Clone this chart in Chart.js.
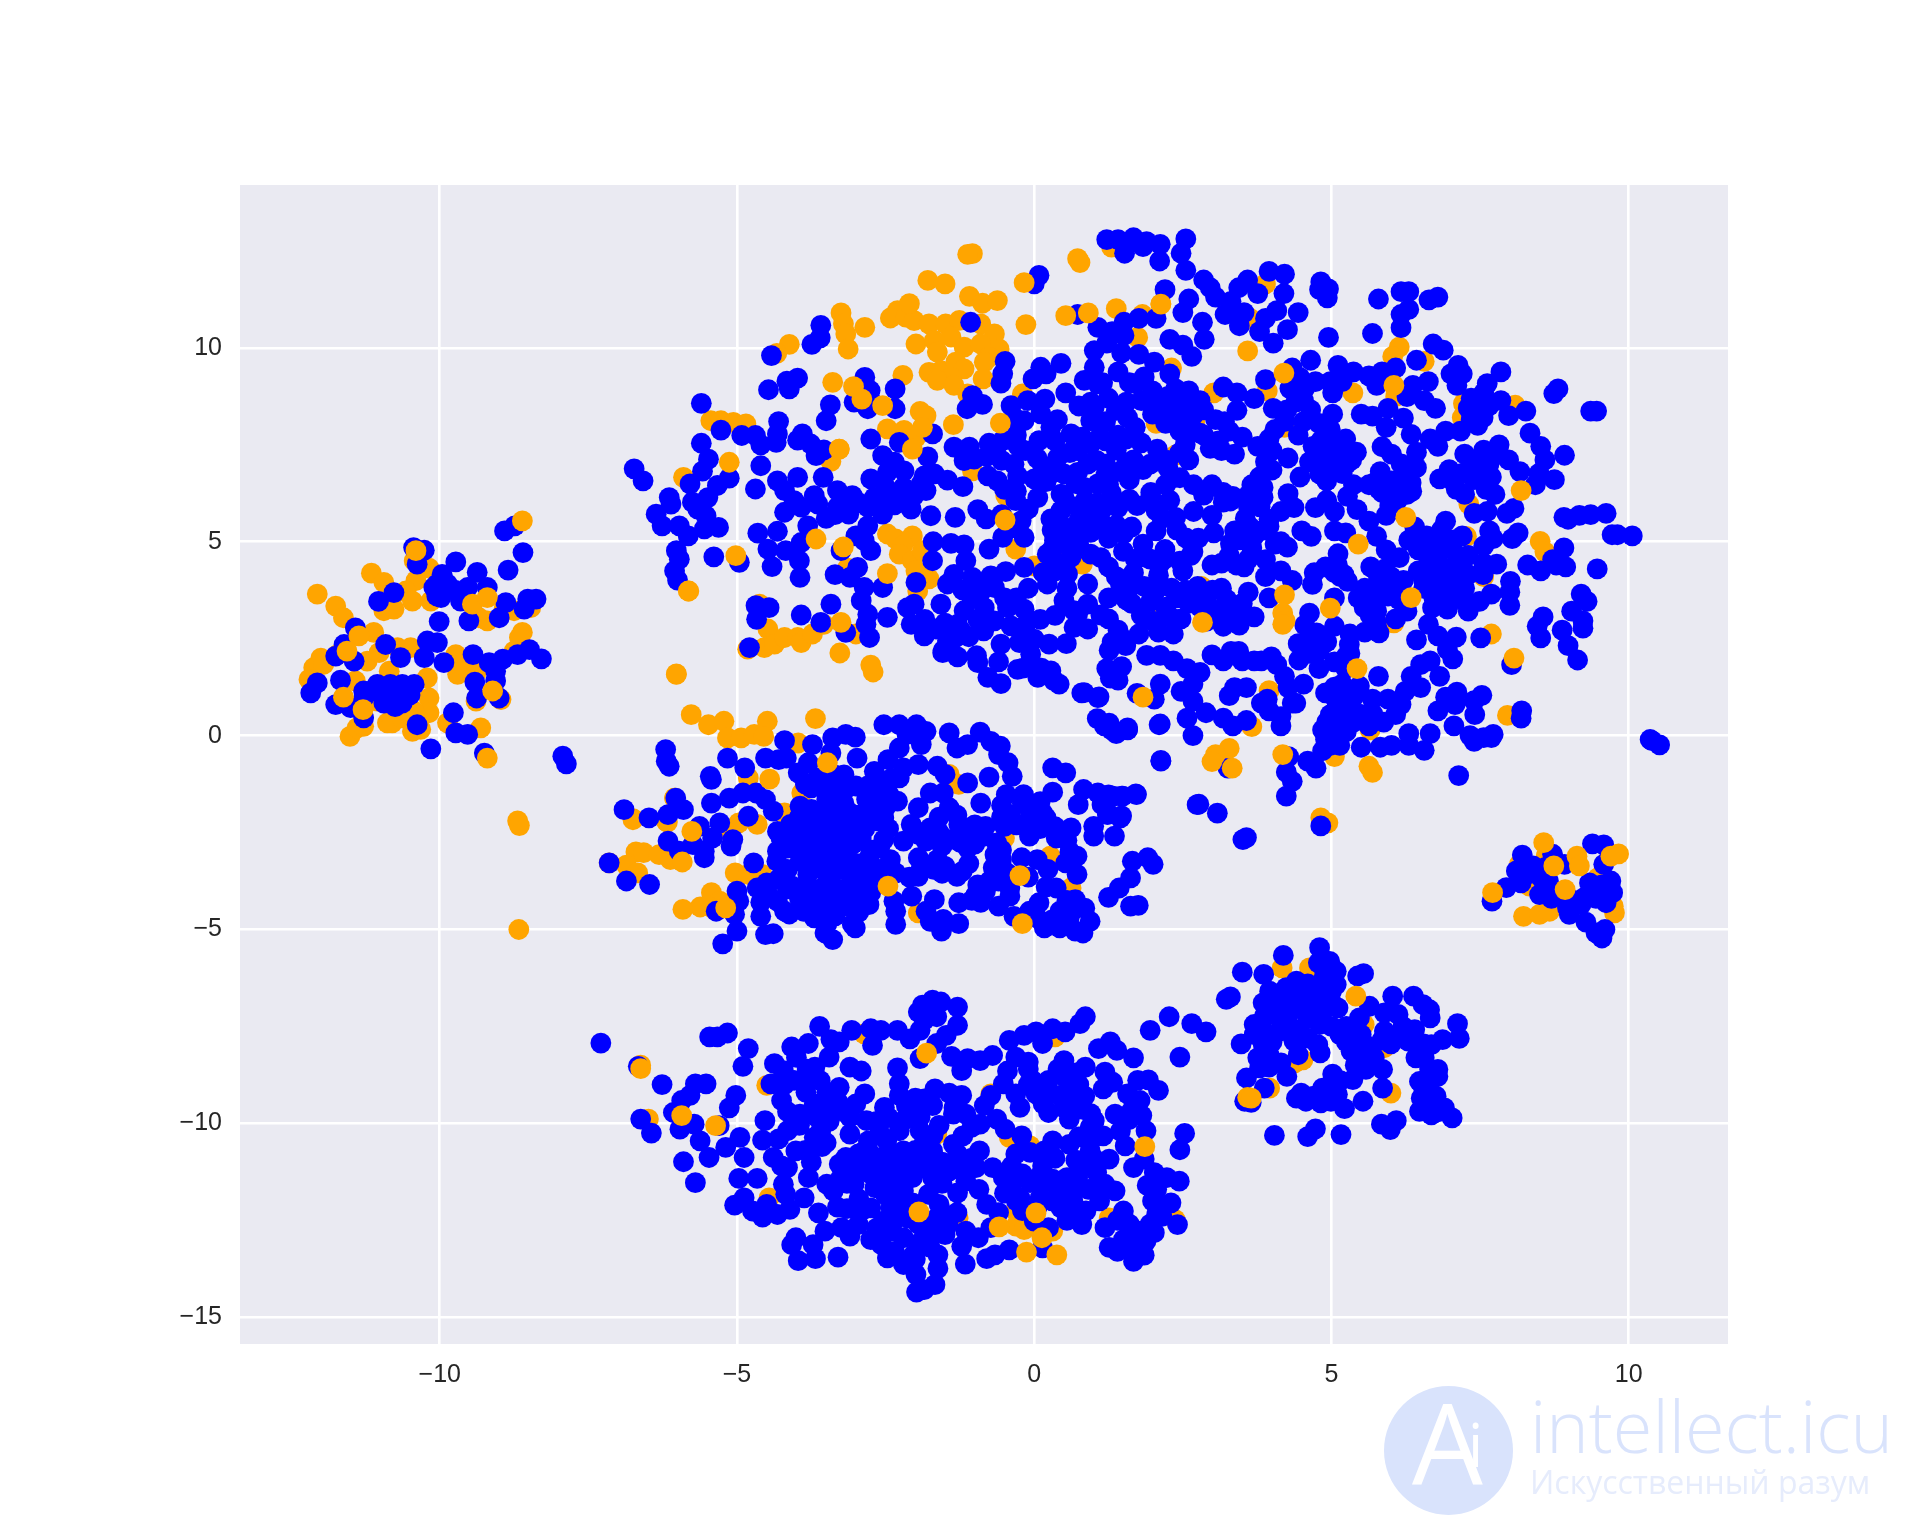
<!DOCTYPE html>
<html>
<head>
<meta charset="utf-8">
<title>t-SNE scatter</title>
<script src="https://cdn.jsdelivr.net/npm/chart.js@4/dist/chart.umd.js"></script>
<style>
  html, body { margin: 0; padding: 0; background: #fff; }
  #wrap { position: relative; width: 1920px; height: 1536px; overflow: hidden; }
  #logo { position: absolute; left: 1384px; top: 1386px; width: 129px; height: 129px; border-radius: 50%; background: #d9e3fc; }
  #logoA { position: absolute; left: 1412px; top: 1385px; font: 112px/112px "Open Sans", sans-serif; color: #fff; }
  #logoI { position: absolute; left: 1468px; top: 1414px; font: 60px/60px "Open Sans", sans-serif; color: #fff; }
  #site { position: absolute; left: 1530px; top: 1385px; font: 300 72px/80px "Open Sans", sans-serif; color: #d9e3fc; white-space: nowrap; }
  #sub { position: absolute; left: 1530px; top: 1462px; font: 32px/40px "Open Sans", sans-serif; color: #e6ecfc; white-space: nowrap; }
</style>
</head>
<body>
<div id="wrap">
  <canvas id="grafico" width="1920" height="1536"></canvas>
  <div id="logo"></div><div id="logoA">A</div><div id="logoI">i</div>
  <div id="site">intellect.icu</div>
  <div id="sub">Искусственный разум</div>
</div>
<script>
const xTicks = [-10, -5, 0, 5, 10];
const yTicks = [-15, -10, -5, 0, 5, 10];

// orange points lying under the blue ones
const orangeLeft = [[-12.06,3.65],[-11.75,3.34],[-11.62,3.04],[-11.15,4.19],[-10.94,3.95],[-10.43,4.51],[-10.18,4.32],[-10.4,4],[-10.77,3.65],[-10.57,3.73],[-10.46,3.47],[-10.94,3.22],[-10.77,3.26],[-10.15,3.47],[-11.11,2.66],[-12,2],[-12.12,1.75],[-12.2,1.45],[-11.95,1.84],[-11.72,2.09],[-11.22,1.92],[-11.02,2.14],[-10.71,2.27],[-10.49,2.27],[-9.73,2.09],[-9.7,1.58],[-9.65,1.84],[-9.39,1.62],[-9.39,.89],[-8.97,.93],[-8.75,2.18],[-8.61,2.66],[-8.66,2.53],[-9.34,3.04],[-9.2,2.96],[-8.92,3.26],[-8.75,3.22],[-8.47,3.3],[-9.31,.2],[-9.87,.33],[-10.21,1.49],[-10.18,.97],[-10.18,.59],[-10.43,.63],[-10.88,.33],[-10.8,.33],[-10.63,.46],[-10.46,.11],[-10.32,.16],[-11.51,-.02],[-11.39,.2],[-11.28,.24],[-11.42,1.41],[-10.85,1.66],[-11.05,.89]];
const orangeUpperWest = [[-2.3,10.96],[-2.42,10.77],[-2.16,10.79],[-2.02,10.7],[-4.12,10.09],[-4.33,9.86],[-1.77,10.62],[-1.49,10.62],[-1.26,10.71],[-.9,10.62],[-.67,10.36],[-1.99,10.1],[-1.68,10.19],[-1.4,10.28],[-1.18,10.02],[-.9,10.1],[-.59,9.97],[-1.63,9.89],[-.76,9.76],[-.84,9.63],[-1.77,9.37],[-1.57,9.41],[-1.32,9.63],[-1.18,9.46],[-1.4,9.24],[-1.63,9.16],[-1.35,9.03],[-.86,9.2],[-1.12,8.81],[-2.21,9.29],[-2.47,7.91],[-2.19,7.87],[-1.99,7.69],[-.2,8.81],[-3.28,7.39],[-3.42,7.07],[-5.44,8.12],[-5.27,8.12],[-5.06,8.08],[-4.85,8.04],[-5.9,6.66],[-1.04,6.83],[-.48,6.19],[-3.14,4.32],[-2.47,5.2],[-2.33,5.07],[-2.05,5.15],[-2.21,4.9],[-2.27,4.68],[-2.05,4.51],[-1.99,4.25],[-1.77,4.04],[-1.88,4.77],[-1.96,3.73],[-.31,4.81],[0,4.38],[.64,4.81],[.5,4.81],[.81,4.42],[-4.62,3.39],[-4.48,2.75],[-4.54,2.27],[-4.82,2.23],[-4.37,2.36],[-4.2,2.53],[-3.98,2.53],[-3.92,2.4],[-3.73,2.62],[-3.54,2.87],[-3,2.62]];
const orangeUpperEast = [[1.38,11.01],[1.82,10.86],[2.13,11.13],[1.74,10.27],[3.89,11.65],[3.63,10.76],[2.31,9.48],[1.3,12.6],[6.14,10.02],[6.03,9.78],[6.56,9.65],[3.92,8.89],[3.02,8.84],[5.36,8.84],[6.08,8.74],[7.22,8.56],[7.2,8.2],[8.09,8.52],[2.05,8.05],[2.7,8.1],[2.38,7.24],[4.21,7.95],[7.31,5.97],[7.27,5.14],[8.51,5.01],[8.59,4.74],[7.56,4.1],[2.81,3.85],[2.09,3.21],[6.05,2.91],[7.69,2.62],[3.95,1.16],[7.96,.52],[3.66,.23],[5.65,.15],[5.05,-.54],[4.82,-2.12]];
const orangeMiddle = [[-5.77,.54],[-5.48,.28],[-5.22,.37],[-5.16,-.06],[-4.93,-.06],[-4.71,.03],[-4.49,.37],[-4.55,-.02],[-3.97,-.19],[-4.81,-1.09],[-3.91,-1.48],[-1.27,-1.26],[-1.43,-1],[-6.05,-1.61],[-6.75,-2.14],[-6.19,-2.21],[-4.97,-2.25],[-4.66,-2.29],[-5.22,-2.42],[-4.2,-1.99],[-6.7,-3],[-6.57,-3.02],[-6.31,-3.07],[-6.12,-3.2],[-7.15,-3.28],[-6.86,-3.34],[-6.67,-3.54],[-5.03,-3.54],[-4.81,-3.58],[-4.58,-3.58],[-5.43,-4.05],[-5.29,-4.27],[-5.62,-4.42],[-5.91,-4.48],[-5.42,-4.44],[.27,-3.11],[.62,-3.93],[-.5,-2.64],[-6.75,-2.17],[-6.17,-2.23],[-6.05,-1.61],[-1.95,-4.57]];
const orangeLower = [[-2.86,-7.69],[-6.62,-8.5],[-6.49,-9.89],[-4.5,-9.02],[-.73,-9.24],[.35,-7.77],[-1.28,-12.44],[-.31,-12.26],[-.31,-12.65],[-.17,-12.74],[.31,-12.78],[1.26,-12.44],[2.37,-12.48],[1.6,-13.26],[-3.14,-11.23],[-4.46,-11.92],[-1.64,-10.28],[-.42,-10.36],[-.07,-10.58]];
const orangeRight = [[8.61,-3.11],[8.16,-3.32],[8.33,-3.88],[9.48,-3.67],[8.23,-4.66],[8.5,-4.61],[8.67,-4.53],[9.76,-4.57],[9.74,-4.4],[4.17,-5.99],[4.63,-5.99],[5.55,-7.45],[5.89,-8.05],[6,-9.22],[3.96,-9.09],[4.38,-8.44],[4.52,-8.36],[4.94,-2.25]];

// orange points lying over the blue ones
const orangeOnTop = [[-8.61,5.54],[-10.4,4.77],[-11.36,2.57],[-11.56,2.18],[-9.11,1.15],[-11.29,.67],[-11.62,.99],[-9.2,-.58],[-6.02,1.59],[-8.69,-2.2],[-8.66,-2.32],[-8.67,-5],[-9.45,3.39],[-9.2,3.56],[-5.81,3.73],
  [-1.04,12.43],[-1.12,12.41],[.73,12.3],[.77,12.2],[-1.79,11.74],[-1.5,11.65],[-.17,11.68],[-1.09,11.33],[-.87,11.15],[-.62,11.22],[-2.1,11.14],[-3.25,10.9],[-3.21,10.62],[-3.17,10.36],[-3.13,9.97],[-2.85,10.53],[-.14,10.6],[.53,10.83],[.91,10.9],[-3.39,9.11],[-3.04,9],[-2.9,8.68],[-2.55,8.51],[-1.92,8.36],[-1.82,8.25],[-1.88,7.95],[-2.05,7.39],[-1.36,8.02],[-.57,8.06],[-3.28,7.39],[-5.13,7.05],[-.49,5.56],[-2.47,4.18],[-3.67,5.07],[-3.21,4.87],[-5.02,4.64],[-5.82,3.73],[-3.25,2.92],[-3.27,2.13],[-2.75,1.82],[-2.71,1.64],[-6.02,1.58],
  [2.13,11.13],[3.59,9.92],[4.2,9.35],[6.05,9.03],[8.19,6.32],[6.25,5.63],[5.45,4.94],[4.21,3.63],[6.34,3.56],[4.98,3.29],[2.83,2.92],[4.18,3.16],[4.22,2.96],[4.18,2.87],[8.07,2],[5.43,1.73],[1.83,.99],[3.28,-.33],[3.05,-.49],[2.99,-.67],[3.33,-.84],[4.18,-.49],[5.63,-.79],[5.69,-.95],
  [-3.68,.44],[-3.48,-.7],[-4.45,-1.12],[-5.76,-2.47],[-5.92,-3.26],[-5.19,-4.44],[-2.46,-3.88],[-.24,-3.61],[-.2,-4.85],
  [-1.81,-8.19],[-6.62,-8.59],[-5.93,-9.8],[-5.36,-10.06],[1.86,-10.6],[-1.94,-12.28],[-.59,-12.67],[.03,-12.31],[.13,-12.95],[-.13,-13.32],[.38,-13.39],[3.59,-9.33],
  [8.57,-2.76],[8.74,-3.36],[9.13,-3.11],[9.17,-3.36],[7.71,-4.05],[8.93,-3.97],[9.7,-3.11],[9.83,-3.05],[5.41,-6.72],[3.65,-9.35]];

const blueLeft = [[-8.91,5.28],[-8.74,5.41],[-8.6,4.72],[-8.85,4.27],[-10.44,4.85],[-10.26,4.78],[-10.38,4.42],[-9.73,4.48],[-9.96,4.16],[-9.37,4.21],[-9.87,3.91],[-10.1,3.82],[-9.98,3.56],[-9.53,3.82],[-9.2,3.82],[-9.65,3.47],[-8.89,3.43],[-8.52,3.52],[-8.38,3.52],[-8.58,3.26],[-9.51,2.96],[-9,3.04],[-10.01,2.94],[-11.03,3.46],[-10.77,3.69],[-11.42,2.78],[-10.21,2.44],[-10.04,2.4],[-10.91,2.35],[-11.61,2.35],[-11.75,2.05],[-11.44,1.92],[-10.66,2.01],[-10.26,2.01],[-9.93,1.88],[-9.44,2.09],[-9.17,1.88],[-8.94,1.97],[-9.06,1.66],[-8.49,2.22],[-8.29,1.98],[-8.69,2.09],[-12.06,1.36],[-12.17,1.1],[-11.67,1.43],[-11.28,1.15],[-11.05,1.32],[-10.83,1.32],[-10.63,1.32],[-10.43,1.32],[-10.71,1.06],[-10.63,.84],[-10.94,.84],[-11.28,.97],[-11.75,.8],[-11.5,.72],[-11.28,.46],[-10.38,.28],[-9.77,.59],[-9.73,.07],[-9.53,.03],[-10.15,-.34],[-9.25,-.45],[-9.41,1.38],[-9.38,.97],[-9,.97],[-9.06,1.41],[-7.93,-.53],[-7.87,-.73],[-10.9,1.1],[-10.75,1.25],[-10.55,1.15],[-10.5,1.05],[-10.95,1.15],[-11.15,1.15],[-10.6,.95],[-10.75,.75],[-10.05,3.9],[-9.95,3.8],[-10.05,3.6],[-9.75,3.75],[-9.6,3.6]];
const blueUpperWest = [[.08,11.87],[0,11.65],[-1.07,10.66],[.73,10.86],[-3.59,10.58],[-3.74,10.09],[-3.6,10.26],[-4.42,9.8],[-3.98,9.22],[-4.16,9.14],[-4.12,8.94],[-4.47,8.92],[-5.6,8.57],[-5.27,7.88],[-4.3,8.1],[-4.32,7.78],[-4.92,7.74],[-4.69,7.74],[-4.6,7.5],[-4.34,7.56],[-5.6,7.54],[-5.48,7.13],[-4.6,6.96],[-5.58,6.82],[-5.13,6.64],[-5.33,6.45],[-5.79,6.49],[-6.73,6.88],[-6.58,6.57],[-3.9,7.78],[-3.98,7.62],[-3.76,7.52],[-3.54,7.37],[-3.67,7.22],[-3.43,8.53],[-3.5,8.12],[-2.85,9.24],[-2.76,8.9],[-2.75,8.64],[-3.03,8.6],[-2.8,8.43],[-2.34,8.94],[-2.34,8.43],[-1.04,8.77],[-.87,8.54],[-1.13,8.43],[-.49,9.65],[-.53,9.33],[-.56,9.09],[.11,9.5],[.2,9.33],[-.02,9.2],[.53,8.84],[.18,8.68],[-.11,8.64],[-.39,8.51],[-.34,8.21],[-.17,8.12],[.11,8.3],[.39,8.15],[.28,7.95],[.62,7.78],[.95,7.52],[.08,7.61],[-.28,7.48],[-.53,7.61],[-.76,7.54],[-.64,7.44],[-2.75,7.65],[-2.27,7.56],[-1.71,7.78],[-1.79,7.19],[-1.35,7.44],[-1.09,7.44],[-1.18,7.09],[-1.01,7.13],[-2.55,7.22],[-2.35,7.05],[-2.19,6.83],[-2.47,6.79],[-2.75,6.62],[-3.55,6.66],[-3.98,6.66],[-4.32,6.57],[-1.85,6.7],[-1.68,6.75],[-1.46,6.59],[-1.2,6.42],[-.78,6.7],[-.62,6.57],[-.34,7],[-.28,6.7],[0,6.62],[.14,6.96],[.39,7.16],[.5,6.75],[.73,6.79],[-4.69,6.36],[-4.2,6.32],[-3.7,6.19],[-3.31,6.32],[-3.06,6.19],[-2.69,6.14],[-4.04,6.06],[-4.2,5.76],[-3.92,5.89],[-3.64,5.97],[-3.31,5.89],[-3.12,5.71],[-2.8,5.89],[-2.55,5.71],[-2.8,5.41],[-2.27,6.19],[-2.02,6.19],[-1.82,6.32],[-2.07,5.84],[-1.74,5.67],[-1.33,5.63],[-.95,5.83],[-.81,5.59],[-.31,6.06],[-.22,5.54],[-.17,5.11],[-.53,5.11],[-.76,4.81],[.45,6.23],[.28,5.59],[.34,5.03],[.56,5.97],[.22,4.68],[.06,6.14],[.95,5.93],[.95,5.24],[-6.36,5.71],[-6.26,5.41],[-6.14,6.14],[-6.11,5.97],[-5.97,5.41],[-5.82,5.15],[-5.66,5.84],[-5.75,6.02],[-5.49,6.14],[-5.52,5.67],[-5.55,5.33],[-5.31,5.37],[-6.02,4.77],[-5.97,4.55],[-6.05,4.25],[-6,4.01],[-5.39,4.61],[-4.96,4.47],[-4.65,5.22],[-4.32,5.27],[-3.81,5.41],[-3.92,4.98],[-4.48,4.81],[-4.18,4.77],[-3.95,4.51],[-4.41,4.36],[-3.94,4.08],[-2.97,4.34],[-3.35,4.15],[-3.1,4.08],[-3.25,4.77],[-3,5.15],[-2.75,4.77],[-2.86,5.03],[-1.7,5],[-1.4,4.96],[-1.18,4.92],[-1.71,4.51],[-1.15,4.51],[-1.35,4.16],[-1.04,4.08],[-.73,4.12],[-.48,4.23],[-.17,4.34],[-.67,3.82],[-1.46,3.91],[-1.99,3.95],[-2.55,3.82],[-2.86,3.82],[-2.91,3.48],[-2.8,3.13],[-2.83,2.87],[-2.77,2.53],[-2.47,3.05],[-3.42,3.39],[-3.17,2.66],[-3.59,2.92],[-3.92,3.11],[-4.68,3.35],[-4.46,3.3],[-4.67,3],[-4.79,2.27],[-2.02,3.39],[-2.13,3.3],[-2.07,2.87],[-1.85,2.57],[-1.54,2.14],[-1.29,2.03],[-1.46,2.44],[-1.57,3.39],[-1.18,3.22],[-1.29,2.87],[-.84,3.3],[-.45,3.3],[-.17,3.26],[-.67,2.96],[-.39,2.83],[-1.23,2.7],[-.56,2.36],[-.25,2.4],[0,2.49],[.25,2.36],[-.06,2.1],[-.95,1.88],[-.78,1.5],[-.56,1.34],[-.28,1.71],[.06,1.5],[.28,1.67],[.42,1.33],[.84,1.11],[1.07,.98],[.22,3.91],[.56,4.17],[.5,3.48],[.67,2.79],[.9,2.75],[.9,3.39],[.73,3.13],[.9,3.91],[.73,7.35],[.95,8.12],[1.01,8.47],[1.07,9.07],[.84,9.16],[1.01,9.93],[1.07,10.53],[1.01,9.5],[.84,6.4],[.73,5.9],[1.07,6.49],[.62,4.6],[.95,4.68],[.45,5.8],[.28,6.75],[.67,3.22],[.8,1.1],[1.09,1],[1.26,.32],[1.57,.16],[1.32,1.58],[1.46,2.53],[1.26,2.2],[.54,2.37],[.33,1.42],[.12,1.74],[-.19,1.74],[-.6,1.9],[-.97,2.06],[-1.32,2.53],[-1.53,2.2],[-1.84,3],
  [-1.9,6.5],[-2.2,6.4],[-2.5,6.4],[-2.55,6.05],[-2.35,5.95],[-2.95,6],[-3.35,5.7],[-3.5,5.6],[-.7,3.95],[-.9,3.9],[-1.2,3.75],[-1.05,3.55],[-.9,3.7],[-.5,3.55],[-.3,3.55],[-.1,3.8],[-.95,3],[-1.1,2.55],[-.85,2.7],[-1.5,2.9],[-1.65,2.75],[-.15,2.85],[.1,3],[.35,3.1],[.15,4.2],[.35,4.25],[.55,3.8],[.3,4.8],[.5,4.45],[.55,5.35],[.75,5.55],[.5,6.15],[.7,6.5],[.85,6.05],[1.05,5.6],[1.15,5.85],[1.05,6],[1.2,6.7],[1.05,7.1],[.9,7],[.6,7.3],[.35,7.6],[.8,7.7],[1.1,7.7],[1.2,8.1],[.95,8.6],[.75,8.5],[1.15,9.1],[1.25,8.7],[.45,9.6],[-.3,7.75],[-.15,7.35],[-.55,7.1],[-.8,7.2],[.05,7.15],[.2,6.55],[.7,5.25],[.3,5.3],[.5,4.95],[.75,4.9],[-.55,5.7],[-.4,5.35],[-.1,5.85],[-.5,6.35],[-.3,6.3]];
const blueUpperEast = [[1.22,12.79],[1.41,12.79],[1.67,12.84],[1.89,12.74],[2.12,12.67],[1.52,12.44],[1.83,12.61],[2.55,12.81],[2.47,12.44],[2.11,12.24],[2.55,12],[2.85,11.75],[2.96,11.55],[2.2,11.5],[3.05,11.31],[2.6,11.26],[2.5,10.91],[2.83,10.66],[2.86,10.22],[2.05,10.76],[1.76,10.76],[1.51,10.66],[1.31,10.42],[1.51,10.32],[1.22,10.12],[2.28,10.22],[2.5,10.07],[2.65,9.78],[1.76,9.83],[1.47,9.87],[2.02,9.63],[1.41,9.38],[2.28,9.33],[3.44,11.55],[3.59,11.75],[3.95,11.97],[4.21,11.9],[4.2,11.4],[3.76,11.4],[3.31,11.2],[3.21,10.86],[3.53,10.91],[3.45,10.57],[4.08,10.96],[3.89,10.76],[4.44,10.91],[4.26,10.47],[3.79,10.42],[4.02,10.12],[4.82,11.7],[4.95,11.52],[4.8,11.5],[4.93,11.29],[4.95,10.27],[5.79,11.26],[6.17,11.45],[6.3,11.45],[6.79,11.31],[6.64,11.24],[6.3,10.99],[6.17,10.86],[6.17,10.52],[5.69,10.37],[6.71,10.1],[6.88,9.94],[7.85,9.38],[7.13,9.55],[7.2,9.33],[7.01,9.33],[7.11,9.03],[7.62,9.08],[8.81,8.94],[8.74,8.82],[9.46,8.37],[9.36,8.37],[8.27,8.37],[7.85,8.64],[7.56,8.84],[7.46,8.54],[7.98,8.25],[8.34,7.8],[7.46,8],[7.17,7.85],[6.92,7.85],[6.66,7.65],[6.79,7.46],[6.43,7.31],[6.43,6.91],[8.52,7.46],[8.92,7.23],[8.59,7.11],[8.17,6.81],[8.49,6.76],[8.75,6.6],[8.43,6.47],[7.82,7.5],[7.56,7.36],[7.98,7.11],[7.24,7.26],[6.98,6.86],[6.82,6.62],[7.2,6.76],[7.49,6.96],[7.69,6.67],[7.75,6.22],[7.24,6.22],[7.4,5.73],[7.62,5.78],[7.95,5.73],[8.07,5.86],[8.98,5.58],[9.17,5.68],[9.36,5.7],[9.62,5.73],[8.91,5.63],[9.72,5.18],[9.81,5.18],[10.06,5.15],[8.14,5.23],[8.04,5.08],[7.66,5.28],[7.72,5.08],[7.56,4.89],[8.91,4.84],[8.72,4.54],[8.3,4.4],[8.52,4.25],[8.94,4.35],[8.78,4.4],[9.47,4.3],[7.78,4.42],[7.56,4.45],[7.55,4.15],[8.01,3.98],[8,3.7],[7.69,3.65],[8,3.36],[7.49,3.46],[9.2,3.65],[9.3,3.46],[9.04,3.21],[9.23,2.96],[9.23,2.77],[8.56,3.06],[8.46,2.82],[8.52,2.52],[8.88,2.72],[8.98,2.32],[9.14,1.95],[7.51,2.52],[7.1,2.54],[6.63,2.87],[6.79,2.57],[6.43,2.47],[6.95,2.22],[7.04,1.98],[6.66,1.93],[6.5,1.83],[6.82,1.53],[6.34,1.53],[6.5,1.24],[6.24,1.14],[7.11,1.12],[6.92,.99],[7.08,.8],[6.79,.64],[7.53,1.04],[7.4,.9],[7.41,.54],[8.2,.64],[8.19,.45],[7.06,.25],[7.33,0],[7.56,-.05],[7.69,-.05],[7.72,.03],[7.4,-.15],[6.3,.05],[6.66,.05],[6.3,-.25],[6.56,-.38],[7.14,-1.03],[5.79,1.53],[6.01,-.25],[5.82,-.3],[5.5,-.3],[5.14,-.25],[4.98,-.25],[4.85,-.39],[4.6,-.66],[4.74,-.84],[4.24,-.94],[4.34,-1.18],[4.24,-1.56],[4.28,-.54],[4.92,.35],[5.11,.05],[5.37,.35],[5.63,.25],[5.88,.35],[6.08,.54],[6.17,.8],[5.95,.94],[5.69,.94],[5.37,.99],[5.05,.99],[4.98,.54],[5.31,2.62],[5.56,2.67],[5.76,2.82],[5.63,3.51],[5.76,3.21],[6.08,3.01],[6.27,3.21],[5.05,3.55],[5.05,2.82],[4.63,3.16],[5.31,2.12],[5.24,1.73],[5.47,1.28],[5.18,1.33],[4.92,2.42],[4.63,2.12],[4.79,1.73],[4.53,1.33],[4.44,2.37],[4.34,.84],[3.95,.64],[4.15,.25],[4.15,.49],[4.4,.84],[4.27,1.24],[4.08,1.83],[3.82,1.93],[3.7,1.93],[3.5,1.93],[3.31,2.17],[3.18,1.93],[2.99,2.08],[3.44,2.17],[3.99,2.03],[4.21,1.53],[3.37,1.24],[3.57,1.24],[3.28,1.03],[3.82,.84],[3.57,.39],[3.34,.25],[3.18,.45],[3.92,.94],[2.12,1.33],[2.02,.94],[1.73,1.09],[2.12,.3],[2.67,0],[2.57,.45],[2.89,.59],[2.67,.89],[2.47,1.14],[2.79,1.63],[2.57,1.73],[2.34,1.93],[2.67,1.33],[1.89,2.07],[2.12,2.07],[1.57,.2],[1.38,.05],[1.18,.25],[2.13,-.64],[2.77,-1.77],[3.08,-2],[1.71,-1.5],[1.47,-1.56],[1.25,-1.53],[1.47,-2.07],[1.25,-2.02],[4.82,-2.33],[3.26,-.84],[10.36,-.1],[10.39,-.13],[10.52,-.24],[8.03,1.83],[3.51,-2.68],[3.57,-2.63],
  [1.41,2.72],[1.31,2.42],[1.76,2.62],[2.09,2.67],[2.34,2.62],[1.54,2.32],[1.25,3.01],[1.28,1.48],[1.41,1.43],[1.22,1.73],[1.47,1.78],[1.12,3.11],[1.64,3.41],[1.96,3.46],[2.21,3.31],[2.47,3.01],[2.6,3.41],[2.79,3.31],[3.05,3.06],[3.18,2.82],[3.37,2.92],[3.7,3.06],[3.5,3.41],[3.24,3.51],[2.99,3.26],[3.15,3.8],[3.6,3.7],[3.95,3.55],[3.37,3.21],[1.38,4.1],[1.67,4.2],[1.6,3.8],[2.09,4.13],[2.31,3.8],[2.5,4.25],[2.67,4.74],[2.18,4.54],[1.89,4.59],[1.83,4.94],[2.05,5.28],[2.38,5.63],[2.28,6.07],[1.96,6.17],[1.73,5.93],[1.41,5.88],[1.38,5.43],[1.64,5.38],[1.25,5.09],[1.12,4.59],[2.68,5.78],[2.99,5.68],[3.02,5.23],[2.76,5.09],[2.63,4.64],[2.99,4.4],[3.28,4.64],[3.53,4.35],[3.37,5.28],[3.63,5.38],[3.6,5.92],[3.66,4.84],[3.89,4.54],[3.89,4.1],[4.15,4.25],[4.34,4],[4.26,4.86],[4.05,4.94],[3.95,5.58],[4.15,5.78],[4.37,5.88],[4.27,6.24],[4.5,5.28],[4.66,5.14],[4.71,4.2],[4.68,3.9],[2.99,6.47],[3.18,6.27],[3.34,6.17],[3.18,6.02],[3.79,6.67],[3.66,6.47],[3.89,7.06],[3.76,7.46],[3.95,7.65],[4.05,7.9],[2.68,6.47],[2.21,6.47],[1.96,6.27],[1.83,6.86],[1.44,6.81],[1.25,6.47],[1.67,7.11],[1.38,7.36],[1.41,7.75],[2.07,7.39],[2.54,7.5],[2.6,7.11],[2.79,7.8],[2.96,7.41],[3.28,7.85],[3.5,7.7],[3.37,7.26],[3.05,8.15],[1.7,7.95],[1.38,8.39],[1.57,8.2],[1.99,8.29],[2.21,8.05],[2.47,8.54],[2.79,8.64],[2.67,8.25],[2.38,8.94],[2.6,8.89],[1.8,8.64],[1.7,9.08],[1.99,8.89],[3.18,8.99],[3.41,8.84],[3.7,8.69],[3.41,8.39],[4.02,8.44],[3.89,9.18],[4.34,9.48],[4.65,9.68],[4.47,9.23],[4.73,9.13],[4.53,8.64],[4.21,8.1],[4.44,7.75],[4.53,8.1],[5.11,9.55],[5.37,9.38],[5.63,9.28],[5.85,9.38],[6.08,9.48],[6.43,9.68],[6.63,9.13],[6.37,9.03],[5.76,9.03],[5.02,8.84],[4.98,9.13],[5.18,9.13],[5.02,8.29],[5.5,8.29],[5.69,8.24],[5.95,8.44],[6.21,8.19],[5.92,7.95],[6.34,7.77],[6.27,8.74],[6.56,8.64],[6.75,8.44],[4.79,8.05],[4.98,7.9],[4.82,7.6],[5.24,7.65],[4.69,7.46],[5.02,7.26],[5.42,7.31],[5.34,7.11],[4.63,7.06],[4.92,6.86],[4.27,7.16],[4.47,6.67],[4.92,6.57],[5.18,6.76],[5.37,6.47],[5.85,7.45],[6.01,7.26],[6.17,7.01],[5.82,6.81],[5.63,6.47],[6.01,6.57],[6.34,6.52],[6.27,6.22],[5.85,6.27],[5.98,5.93],[5.92,5.68],[5.27,6.17],[4.92,6.07],[4.73,5.88],[5.05,5.78],[5.43,5.83],[5.63,5.53],[5.05,5.28],[5.24,5.23],[5.76,5.14],[5.92,4.79],[6.14,4.59],[5.11,4.69],[5.21,4.15],[5.05,4.2],[5.27,3.98],[5.66,4.35],[5.79,4.1],[6.4,5.38],[6.3,5.04],[6.46,4.79],[6.92,5.53],[7.2,5.15],[6.79,5],[7.04,4.79],[6.79,4.49],[6.46,4.25],[6.21,4],[6.72,4],[7.11,4.3],[7.24,3.8],[6.72,3.56],[6.95,3.26],[7.3,3.21],[6.14,3.5],[5.56,3.8],[5.82,3.65],
  [1.55,7],[1.2,7],[1.6,6.6],[1.3,6.25],[1.6,6.1],[1.5,5.2],[1.2,5.4],[1.5,4.75],[1.25,4.35],[1.7,4.55],[1.45,3.9],[1.55,3.5],[1.25,3.55],[1.85,3.85],[2.05,3.75],[2.4,3.55],[2.55,3.75],[2.75,3.85],[3,3.75],[2.85,3.6],[2.9,2.95],[3.2,3.2],[3.55,3.1],[3.25,3],[3.45,2.85],[2,2.95],[1.8,3.1],[2.3,3.05],[2.1,4.4],[1.95,4.55],[2.2,4.8],[2.45,4.5],[2.4,5.3],[2.55,5.1],[2.15,5.6],[2.05,5.8],[3.15,4.45],[3.4,4.4],[3.45,5.05],[3.7,5.15],[3.55,5.6],[3.85,5.3],[3.3,4.95],[2.85,6.2],[3.6,6.2],[3.85,6.15],[3.8,5.9],[3.85,6.4],[4,6.85],[4,7.35],[2.65,7.85],[2.45,7.85],[2.45,7.3],[2.85,7.75],[3.1,7.6],[3.15,7.35],[3.2,8.1],[2.1,8.55],[2.25,8.75],[1.6,9.1],[1.85,9.25],[1.55,8.6],[1.55,7.65],[1.8,7.55],[1.2,7.6],[1.95,7],[2.25,6.9],[2.35,6.65],[2.25,7.1],[2.45,6.65],[5.05,7.6],[5.1,7.05],[5,6.9],[5.25,7],[5.2,7.4],[4.85,7.25],[4.8,6.75],[5.8,6.35],[5.75,6.55],[5.9,6.4],[6.15,6.35],[6.1,6.05],[6.2,6.6],[6.35,6.3],[4.9,4.35],[5.1,4.4],[5.15,4.1],[5.45,3.55],[5.55,3.3],[5.65,3.1],[5.75,2.95],[5.8,2.65],[5.3,2.35],[5.25,2.05],[4.75,2.65],[4.55,2.85],[4.65,2.5],[4.8,2.2],[4.45,1.95],[5.05,1.9],[5.05,1.25],[4.9,1.1],[5.1,.8],[5.3,.6],[5.05,.35],[4.85,.15],[5.5,.55],[5.7,.55],[5.25,.1],[5.1,-.05],[4.9,-.1],[6.55,4],[6.6,4.35],[6.9,4],[7.1,3.85],[6.85,3.9],[6.95,4.3],[6.65,4.65],[6.55,3.8],[7.05,3.55],[6.9,3.5],[6.7,3.3],[7.2,3.5],[6.95,4.85],[7.05,5.05],[6.85,5.3],[6.6,5.15],[6.65,4.4],[7.15,4.55],[7.3,4.15],[7.3,4.65],[5.9,4.3],[6,4.1],[6.1,3.85],[5.9,3.8],[5.95,3.6],[7.75,7.25],[7.65,7],[7.35,7.05],[7.4,6.6],[7.55,6.55],[7.6,6.35],[7.1,6.35],[7.05,6.55],[7.55,8.2],[7.35,8.15],[7.65,8.5],[7.3,8.45],[7.35,8.7],[4.4,8.6],[4.3,8.95],[4.55,8.95],[4.65,8.4],[4.25,8.4],[2.3,8.3],[2.45,8.15],[2.6,8.55],[2,8.7],[2.85,8.4],[3.3,6.05],[3.95,5.4],[4.15,5],[3.6,4.55]];
const blueMiddle = [[-6.2,-.36],[-6.19,-.66],[-6.14,-.79],[-5.16,-.58],[-4.87,-.83],[-5.45,-1.05],[-5.43,-1.13],[-6.03,-1.61],[-6.9,-1.91],[-6.48,-2.12],[-6.16,-2.04],[-5.9,-1.91],[-5.43,-1.74],[-5.13,-1.61],[-4.9,-1.48],[-4.68,-1.48],[-4.52,-1.65],[-4.39,-1.95],[-4.81,-2.08],[-5.29,-2.25],[-5.63,-2.34],[-6.16,-2.72],[-5.07,-2.68],[-5.1,-2.85],[-5.55,-3.15],[-5.55,-2.98],[-5.97,-2.98],[-5.74,-2.81],[-5.41,-2.64],[-7.15,-3.28],[-6.86,-3.75],[-6.47,-3.84],[-4.72,-3.28],[-4.33,-3.24],[-4.32,-2.47],[-4.32,-2.98],[-4.2,-.13],[-4.3,-.62],[-4.52,-.58],[-4.17,-.58],[-3.73,-.23],[-3.39,-.06],[-3.17,.03],[-3.01,-.04],[-2.98,-.58],[-3.42,-.45],[-3.8,-.7],[-3.97,-.96],[-3.75,-1.35],[-3.49,-1.65],[-3.2,-1.43],[-3.36,-1.01],[-3.2,-1.01],[-2.69,-.92],[-2.53,.28],[-2.27,.28],[-1.98,.28],[-1.82,.11],[-1.9,-.23],[-2.14,.03],[-2.27,-.32],[-2.46,-.62],[-1.95,-.75],[-2.2,-.83],[-1.63,-.79],[-1.5,-1],[-1.12,-1.22],[-1.43,.07],[-1.3,-.32],[-1.12,-.23],[-.91,.09],[-.73,-.15],[-.57,-.27],[-.6,-.49],[-.44,-.7],[-.76,-1.07],[-.37,-1.05],[-.47,-1.52],[-.18,-1.52],[-.9,-1.74],[-.02,-1.78],[-.4,-2.04],[.14,-1.99],[.2,-2.12],[-.08,-2.16],[-.5,-2.34],[-.82,-2.34],[-1.05,-2.55],[-.08,-2.59],[.37,-2.64],[.62,-2.38],[.31,-.83],[.53,-.96],[.31,-1.46],[.83,-1.39],[1.07,-1.48],[1.33,-1.56],[1.49,-1.56],[1.72,-1.52],[.74,-1.78],[1.14,-1.78],[1.23,-2.04],[1.45,-2.12],[1,-2.34],[1.35,-2.59],[1,-2.59],[1.06,.44],[1.3,.15],[1.57,.15],[2.13,-.66],[2.1,.28],[1.36,.11],[2.74,-1.78],[-3.94,-1.82],[-3.62,-2.12],[-3.1,-1.99],[-2.65,-1.6],[-2.69,-1.18],[-2.3,-1.69],[-2.27,-1.09],[-1.75,-1.48],[-1.53,-1.48],[-1.95,-1.86],[-1.43,-1.86],[-1.27,-2.29],[-2.07,-2.29],[-1.75,-2.38],[-2.53,-2.12],[-2.78,-1.95],[-3.04,-2.42],[-3.43,-2.42],[-3.81,-2.29],[-4.1,-2.29],[-4.26,-2.64],[-4.02,-2.81],[-3.68,-2.64],[-3.3,-2.81],[-2.91,-2.64],[-2.53,-2.68],[-2.2,-2.72],[-1.82,-2.72],[-1.43,-2.68],[-1.12,-2.9],[-3.94,-3.24],[-3.55,-3.15],[-3.17,-3.24],[-2.78,-3.15],[-1.95,-3.15],[-1.63,-3.2],[-1.5,-3.37],[-1.95,-3.63],[-1.69,-3.45],[-1.21,-3.5],[-1.3,-3.63],[-2.33,-3.54],[-2.78,-3.75],[-3.1,-3.58],[-3.49,-3.58],[-3.81,-3.58],[-4.07,-3.88],[-4.5,-3.8],[-4.66,-3.93],[-5,-4.01],[-4.97,-4.27],[-4.32,-4.27],[-4.2,-4.53],[-3.88,-4.53],[-3.56,-4.53],[-3.3,-4.36],[-3.68,-4.18],[-3.17,-4.1],[-2.78,-4.36],[-3.43,-3.84],[-3.04,-3.84],[-4.6,-4.66],[-5.04,-4.61],[-5.35,-4.53],[-5,-5.04],[-5.24,-5.37],[-4.52,-5.13],[-4.39,-5.11],[-3.49,-4.87],[-3.39,-5.26],[-3.52,-5.09],[-3.06,-4.87],[-3.01,-4.96],[-2.33,-4.87],[-2.33,-4.53],[-2.36,-4.27],[-2.06,-4.14],[-1.68,-4.23],[-1.82,-4.53],[-1.53,-4.74],[-1.27,-4.85],[-1.56,-5.04],[-1.75,-4.79],[-1.27,-4.31],[-.98,-4.1],[-.82,-4.01],[-.6,-4.4],[-.41,-4.14],[-.34,-4.66],[.08,-4.31],[-.08,-4.53],[.17,-4.96],[.43,-4.53],[.69,-4.23],[.59,-4.7],[.94,-4.79],[.82,-5.09],[.69,-5.04],[.43,-4.96],[.37,-3.93],[-.21,-3.15],[.05,-3.2],[.23,-3.45],[.53,-3.28],[.72,-3.11],[.72,-3.58],[-.6,-3.75],[-.41,-3.93],[-.66,-3.07],[-.69,-3.41],[-.63,-2.77],[1.25,-4.17],[1.43,-3.93],[1.62,-3.67],[1.65,-3.24],[1.91,-3.15],[2,-3.32],[1.75,-4.38],[1.62,-4.4],
  [-4.15,-2.9],[-4.05,-2.45],[-3.95,-2.1],[-3.9,-2.6],[-3.85,-3],[-3.8,-3.35],[-3.75,-1.9],[-3.7,-2.95],[-3.62,-2.4],[-3.6,-3.4],[-3.55,-2.75],[-3.5,-1.95],[-3.45,-3.05],[-3.42,-3.75],[-3.35,-2.15],[-3.32,-3.45],[-3.25,-2.55],[-3.2,-3],[-3.12,-2.25],[-3.1,-3.85],[-3.05,-2.8],[-2.98,-3.3],[-2.95,-2.05],[-2.9,-3.55],[-2.85,-2.4],[-2.82,-1.65],[-2.75,-2.95],[-2.7,-3.4],[-2.65,-2.2],[-2.6,-2.9],[-2.55,-3.6],[-2.5,-1.85],[-2.45,-2.4],[-2.42,-3.2],[-2.8,-1.3],[-2.55,-1.35],[-2.4,-1.1],[-2.45,-1.5],[-3,-1.3],[-3.2,-1.75],[-3.45,-1.35],[-3.65,-1.1],[-3.85,-1.25],[-3.4,-3.95],[-3.6,-3.95],[-3.8,-3.95],[-3.95,-4.2],[-3.75,-4.35],[-3.45,-4.3],[-3.15,-4.4],[-2.95,-4.15],[-2.75,-4.05],[-4.15,-3.95],[-4.3,-3.7],[-4.45,-4.15],[-4.6,-4.3],[-4.15,-3.45],[-4.12,-4.6],[-3.7,-4.7],[-3.35,-4.65],[-2.95,-4.55],[-2.05,-2.35],[-1.95,-2.55],[-1.6,-2.5],[-1.6,-2.1],[-1.3,-2.05],[-1.25,-2.55],[-1.55,-2.85],[-1.25,-2.75],[-1,-2.3],[-1,-2.8],[-.85,-2.6],[-1.9,-3.4],[-1.55,-3.55],[-2.1,-3.65],[-1.1,-3.3],[-.55,-2.1],[-.55,-1.8],[-.2,-1.75],[-.3,-2.3],[.1,-2.4],[.1,-1.7],[.35,-2.35],[-.1,-1.85],[.55,-2.7],[.6,-3],[.2,-3.9],[.55,-4.25],[.85,-4.45],[.3,-4.75],[.05,-4.7],[.65,-4.5],[-.1,-3.65],[-.75,-3.75],[-.95,-3.85],[-.9,-4.3],[-1.05,-4.25],[-.45,-3.55],[-.55,-3.2],[-.55,-2.95]];
const blueLower = [[-7.29,-7.93],[-5.33,-7.77],[-5.16,-7.67],[-5.46,-7.77],[-4.81,-8.07],[-4.9,-8.53],[-6.26,-9],[-6.66,-8.53],[-5.7,-8.98],[-5.52,-8.98],[-5.79,-9.28],[-5.93,-9.41],[-5.02,-9.28],[-5.13,-9.6],[-6.07,-9.72],[-6.62,-9.89],[-6.44,-10.25],[-5.96,-10.15],[-5.72,-10.02],[-5.3,-10.06],[-5.62,-10.45],[-5.9,-10.99],[-5.47,-10.88],[-5.19,-10.62],[-4.88,-10.88],[-4.95,-10.36],[-5.7,-11.53],[-4.97,-11.42],[-4.66,-11.42],[-5.04,-12.11],[-4.88,-11.92],[-4.74,-12.26],[-4.57,-12.42],[-4.5,-12.09],[-4.32,-12.35],[-4.11,-12.22],[-4.57,-10.43],[-4.53,-9.93],[-4.43,-8.98],[-4.37,-8.46],[-4.08,-8.03],[-4.04,-8.89],[-4.25,-9.41],[-4.22,-8.64],[-3.8,-7.94],[-3.61,-7.5],[-3.42,-7.84],[-3.07,-7.6],[-3.28,-7.9],[-3.45,-8.29],[-3.69,-8.55],[-3.8,-8.81],[-3.1,-8.55],[-2.91,-8.65],[-2.72,-7.99],[-2.58,-7.6],[-2.75,-7.56],[-2.3,-7.6],[-2.09,-7.82],[-1.92,-7.6],[-2.3,-8.57],[-2.27,-8.98],[-2.27,-9.28],[-1.88,-6.95],[-1.71,-6.82],[-1.57,-6.87],[-1.95,-7.13],[-1.29,-7],[-1.29,-7.47],[-1.64,-7.25],[-1.48,-7.73],[-1.64,-7.94],[-1.92,-8.33],[-1.85,-7.34],[-1.39,-8.27],[-1.12,-8.33],[-1.22,-8.64],[-.91,-8.38],[-.7,-8.25],[-.42,-7.86],[-.17,-7.73],[.03,-7.64],[.31,-7.56],[.52,-7.64],[.14,-7.94],[.77,-7.43],[.86,-7.25],[-.31,-8.29],[-.1,-8.42],[.5,-8.38],[.86,-8.55],[1.08,-8.07],[1.28,-7.9],[1.39,-8.12],[1.67,-8.31],[1.95,-7.6],[2.27,-7.25],[2.65,-7.43],[2.89,-7.64],[2.45,-8.29],[3.23,-6.8],[3.3,-6.74],[1.19,-8.68],[1.32,-8.94],[1.16,-9.11],[1.74,-8.89],[1.92,-8.88],[2.09,-9.15],[1.57,-9.24],[1.78,-9.41],[1.36,-9.76],[1.64,-9.67],[1.81,-9.8],[1.88,-10.19],[1.53,-10.58],[2.53,-10.26],[2.45,-10.68],[1.85,-10.92],[1.26,-10.92],[1.67,-11.14],[2.02,-11.27],[2.23,-11.4],[2.44,-11.49],[2.06,-11.7],[2.3,-12.05],[1.99,-12],[2.06,-12.35],[2.41,-12.61],[2.02,-12.82],[1.78,-12.78],[1.5,-12.26],[1.19,-12.69],[1.26,-13.2],[1.64,-13.21],[1.67,-13.56],[1.88,-13.04],[.94,-10.71],[.94,-11.1],[1.05,-11.27],[.73,-11.4],[.91,-11.7],[1.36,-11.74],[1.19,-11.57],[.87,-12.26],[.8,-12.61],[.59,-11.74],[.31,-11.44],[.14,-11.1],[-.07,-11.53],[-.24,-11.92],[.1,-11.92],[.45,-12.18],[.1,-11.57],[.24,-9.72],[.59,-9.89],[.94,-10.1],[1.16,-10.32],[.31,-10.45],[.59,-10.54],[.17,-10.71],[-.31,-10.79],[-.07,-10.75],[-.38,-11.1],[-.52,-11.4],[-.38,-11.57],[-.7,-11.14],[-.21,-10.32],[-.49,-10.15],[-.24,-9.59],[-.31,-9.24],[-.52,-8.98],[-.03,-8.89],[.24,-8.89],[.52,-8.81],[.66,-9.07],[.03,-9.24],[.42,-9.28],[.8,-9.63],[1.01,-9.93],[-.73,-9.28],[-.63,-9.89],[-.84,-9.54],[-.91,-10.02],[-1.22,-9.28],[-1.43,-9.22],[-1.67,-9.11],[-1.85,-9.37],[-1.71,-9.54],[-1.36,-9.76],[-1.15,-9.76],[-1.92,-9.84],[-2.2,-9.93],[-2.52,-9.59],[-2.85,-9.24],[-1.2,-10.32],[-1.36,-10.54],[-.92,-10.71],[-1.29,-10.79],[-1.71,-10.71],[-1.92,-10.19],[-2.27,-10.19],[-2.48,-10.45],[-2.79,-10.45],[-3.17,-10.88],[-3.28,-11.05],[-2.96,-10.79],[-2.54,-10.88],[-2.2,-10.71],[-1.92,-10.97],[-1.43,-11.23],[-.98,-11.14],[-1.15,-11.49],[-.93,-11.7],[-.8,-12.09],[-1.29,-11.79],[-1.71,-11.4],[-2.16,-11.4],[-2.41,-11.49],[-2.75,-11.31],[-3.03,-11.57],[-2.68,-11.66],[-2.2,-11.74],[-1.78,-11.83],[-1.6,-12.09],[-2.41,-12.18],[-2.75,-12.18],[-2.54,-12.52],[-2.13,-12.44],[-1.64,-12.44],[-1.78,-12.69],[-1.5,-12.87],[-2.2,-12.95],[-2.41,-12.78],[-2.96,-12.61],[-3.24,-12.69],[-3.52,-12.78],[-3.1,-12.91],[-2.57,-13.13],[-2.47,-13.47],[-2.2,-13.64],[-2.03,-13.39],[-1.99,-13.9],[-1.62,-13.39],[-1.62,-13.74],[-1.67,-14.16],[-1.85,-14.29],[-1.98,-14.35],[-1.16,-13.63],[-.8,-13.49],[-1.22,-13.17],[-.66,-13.39],[-.42,-13.26],[.14,-13.21],[-.94,-12.95],[-1.15,-12.78],[-.73,-12.69],[0,-12.52],[.24,-12.69],[-4.01,-12.95],[-4.08,-13.13],[-3.72,-13.13],[-3.97,-13.54],[-3.68,-13.49],[-3.3,-13.45],[-3.63,-12.31],[-3.31,-12.16],[-3.49,-11.57],[-3.38,-11.74],[-3.8,-11.4],[-3.87,-11.92],[-4.22,-11.57],[-4.18,-11.83],[-4.15,-11.14],[-4.01,-10.71],[-4.39,-10.88],[-4.15,-10.19],[-3.84,-9.2],[-3.49,-9.2],[-3.28,-9.07],[-3.94,-9.76],[-3.66,-9.84],[-3.38,-9.67],[-3.1,-9.84],[-2.82,-9.93],[-3.59,-10.19],[-3.1,-10.28],[-3.7,-10.36],[-3.57,-10.6],[-2.75,-10.79],
  [-4.3,-10.4],[-4.25,-11.1],[-4.15,-9.7],[-4.2,-9],[-4,-8.3],[-3.95,-10.05],[-3.85,-10.7],[-3.82,-8.6],[-3.75,-11],[-3.7,-9.5],[-3.6,-8.9],[-3.55,-9.55],[-3.5,-10.5],[-3.45,-9.95],[-3.3,-9.45],[-3.2,-9.7],[-3.25,-11.4],[-3.15,-11.55],[-3.15,-12.2],[-3,-11.25],[-2.95,-11.95],[-2.9,-12.25],[-2.85,-10.7],[-2.8,-11],[-2.65,-10.95],[-2.6,-11.2],[-2.5,-11.85],[-2.45,-11.15],[-2.35,-10.9],[-2.35,-11.7],[-2.25,-12.1],[-2.2,-11.1],[-2.05,-12.05],[-2.05,-11.4],[-2,-10.7],[-1.95,-12.6],[-1.85,-11.15],[-1.85,-10.5],[-1.8,-13],[-1.7,-10.3],[-1.6,-10.05],[-1.55,-11],[-1.55,-11.55],[-1.5,-12.4],[-1.45,-12.6],[-1.35,-9.6],[-1.3,-12.3],[-1.2,-11.1],[-1.05,-10.1],[-1.05,-10.9],[-1.95,-13.1],[-2.35,-13.3],[-2.35,-12.5],[-2.65,-12.7],[-2.75,-13],[-2,-13.5],[-1.75,-13.2],[-2.15,-9.55],[-2.45,-9.85],[-2.6,-10.25],[-2.65,-9.95],[-3,-9.5],[-2,-9.35],[.4,-8.6],[.7,-8.7],[.75,-9],[.2,-9.3],[.5,-9.6],[.85,-9.3],[-.1,-9],[.15,-9.5],[.65,-9.3],[.95,-9.75],[-.1,-8.6],[-.45,-8.65],[1.6,-9.9],[1.45,-10.2],[.75,-10.35],[.95,-10.45],[.7,-10.95],[.35,-10.9],[.1,-11.35],[.55,-11.4],[.4,-11.7],[-.2,-11.3],[.3,-12],[.65,-12],[.65,-12.45],[.55,-12.5],[1,-10.9],[1.1,-11.6],[1.1,-12],[-.5,-11.8],[-.6,-12.3],[-.3,-12],[-.2,-12.25],[.05,-12.15],[1.9,-11.6],[2.05,-12.1],[2.15,-12.4],[1.95,-12.6],[1.6,-12.6],[1.4,-12.5],[1.85,-13.4],[1.5,-13],[1.4,-13.3]];
const blueRight = [[8.21,-3.08],[8.11,-3.49],[7.94,-3.92],[7.7,-4.27],[8.19,-3.8],[8.39,-3.36],[8.53,-3.67],[8.5,-4.1],[8.72,-3.06],[8.92,-3.32],[8.61,-4.01],[9.39,-2.79],[9.58,-2.82],[9.58,-3.32],[9.7,-3.75],[9.73,-4.05],[9.62,-4.31],[9.34,-3.8],[9.25,-4.18],[8.97,-4.44],[9,-4.61],[9.28,-4.81],[9.6,-5],[9.45,-5.09],[9.55,-5.22],[8.6,-3.4],[8.45,-3.55],[8.65,-3.75],[8.7,-4.2],[8.85,-4.15],[9,-4.2],[9.05,-4.4],[9.5,-4],[9.55,-3.85],[9.45,-4.2],[9.2,-4.35],[8.35,-3.55],
  [4.8,-5.47],[4.19,-5.67],[3.5,-6.1],[3.86,-6.16],[5.44,-6.2],[5.54,-6.14],[4.78,-5.86],[4.97,-5.82],[5.08,-6.08],[5.08,-6.42],[4.88,-6.2],[4.41,-6.33],[4.24,-6.5],[3.96,-6.59],[3.85,-6.89],[4.07,-6.76],[4.74,-6.59],[4.63,-6.81],[4.29,-7.15],[3.87,-7.24],[4.99,-6.85],[5.11,-7.02],[4.85,-7.11],[5.64,-6.98],[5.47,-7.28],[5.89,-7.15],[6.12,-7.19],[6.03,-6.72],[6.38,-6.72],[6.54,-6.94],[6.65,-7.07],[6.66,-7.28],[7.12,-7.43],[7.15,-7.81],[6.87,-7.84],[6.68,-7.97],[6.4,-7.58],[6.29,-7.88],[6.06,-7.8],[5.89,-7.62],[3.7,-7.45],[4.13,-7.62],[3.48,-7.95],[3.7,-7.71],[4.37,-7.88],[4.6,-7.8],[4.8,-7.45],[4.77,-7.97],[5.14,-7.71],[5.5,-7.71],[5.33,-8.14],[4.44,-8.23],[4.81,-8.18],[3.76,-8.31],[3.95,-8.23],[4.15,-8.44],[4.25,-8.79],[3.79,-8.57],[3.57,-8.83],[3.54,-9.43],[3.65,-9.46],[3.87,-9.09],[5.72,-8.31],[5.66,-8.14],[5.86,-8.61],[5.86,-9.09],[5.53,-9.43],[5.58,-8.61],[5.36,-8.87],[5.02,-8.73],[4.85,-9.09],[4.49,-9.22],[4.41,-9.35],[4.57,-9.43],[4.82,-9.47],[4.99,-9.43],[5.22,-9.62],[6.56,-8.31],[6.42,-8.31],[6.79,-8.61],[6.48,-8.92],[6.79,-8.79],[6.51,-9.35],[6.76,-9.3],[6.48,-9.69],[6.68,-9.78],[6.9,-9.6],[7.03,-9.86],[4.04,-10.31],[4.6,-10.34],[4.73,-10.14],[5.16,-10.29],[5.84,-10.02],[5.99,-10.16],[6.09,-9.93],[4.3,-7.5],[4.45,-7.6],[4.6,-7.3],[5,-7.5],[5.25,-7.5],[5.4,-7.5],[5.25,-7.9],[5.6,-8],[5.85,-7.85],[6.2,-7.5],[6,-7.95],[6.55,-7.95],[6.45,-8.05],[6.65,-8.6],[6.65,-8.95],[6.55,-9.1],[6.65,-9.55],[6.8,-9.7],[5.15,-8.9],[5.4,-8.5],[5.5,-8.3],[4.7,-9.3],[4.95,-9.2],[5.1,-9.25],[4.6,-6.4],[4.4,-6.8],[4.55,-7.05],[4.15,-7],[4.05,-7.2],[3.85,-7.6],[3.85,-7.95],[4,-7.9],[3.95,-8.55],[4.9,-5.95],[4.9,-6.5],[5,-6.6],[4.85,-6.95]];

const orangeUnder = [...orangeLeft, ...orangeUpperWest, ...orangeUpperEast, ...orangeMiddle, ...orangeLower, ...orangeRight];
const blueAll = [...blueLeft, ...blueUpperWest, ...blueUpperEast, ...blueMiddle, ...blueLower, ...blueRight];

const plotBackground = {
    id: 'plotBackground',
    beforeDraw(chart) {
        const { ctx, chartArea: a } = chart;
        ctx.save();
        ctx.fillStyle = '#eaeaf2';
        ctx.fillRect(a.left, a.top, a.right - a.left, a.bottom - a.top);
        ctx.restore();
    }
};

const tickFont = { family: '"Liberation Sans", Arial, sans-serif', size: 25 };
const minusLabel = v => String(v).replace('-', '\u2212');

// first dataset is painted last, so it ends up on top
new Chart(document.getElementById('grafico'), {
    type: 'scatter',
    data: {
        datasets: [
            { data: orangeOnTop, backgroundColor: '#ffa500' },
            { data: blueAll, backgroundColor: '#0000ff' },
            { data: orangeUnder, backgroundColor: '#ffa500' }
        ]
    },
    options: {
        responsive: false,
        animation: false,
        devicePixelRatio: 1,
        layout: { padding: { left: 0, right: 192, top: 185, bottom: 0 } },
        elements: { point: { radius: 10.4, borderWidth: 0, hoverRadius: 10.4 } },
        plugins: { legend: { display: false }, tooltip: { enabled: false } },
        scales: {
            x: {
                min: -13.36,
                max: 11.67,
                afterBuildTicks: s => { s.ticks = xTicks.map(value => ({ value })); },
                afterFit: s => { s.height = 192; },
                grid: { color: '#ffffff', lineWidth: 2.6, drawTicks: false },
                border: { display: false },
                ticks: { font: tickFont, color: '#262626', padding: 16, maxRotation: 0, autoSkip: false, callback: minusLabel }
            },
            y: {
                min: -15.69,
                max: 14.2,
                afterBuildTicks: s => { s.ticks = yTicks.map(value => ({ value })); },
                afterFit: s => { s.width = 240; },
                grid: { color: '#ffffff', lineWidth: 2.6, drawTicks: false },
                border: { display: false },
                ticks: { font: tickFont, color: '#262626', padding: 18, autoSkip: false, callback: minusLabel }
            }
        }
    },
    plugins: [plotBackground]
});
</script>
</body>
</html>
